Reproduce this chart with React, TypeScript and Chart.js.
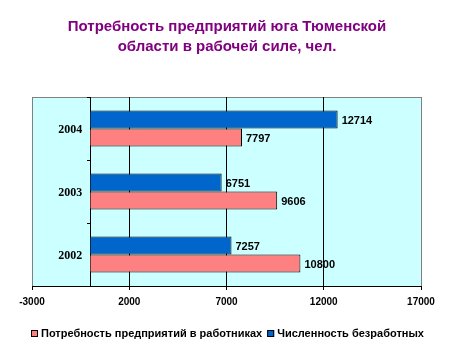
import React, { useEffect, useRef } from "react";
import { Chart, registerables } from "chart.js";

Chart.register(...registerables);

const categories = ["2002", "2003", "2004"];
const demandValues = [10800, 9606, 7797];
const unemployedValues = [7257, 6751, 12714];
const seriesNames = ["Потребность предприятий в работниках", "Численность безработных"];
const seriesColors = ["#FF8080", "#0066CC"];
const xMin = -3000;
const xMax = 17000;
const xStep = 5000;
const titleLines = ["Потребность предприятий юга Тюменской", "области в рабочей силе, чел."];

const FONT = '"Liberation Sans", Arial, sans-serif';
const SERIF = '"Liberation Serif", "Times New Roman", serif';

const decorPlugin = {
  id: "decor",
  beforeDraw(chart: any) {
    const { ctx, chartArea: a } = chart;
    ctx.save();
    ctx.fillStyle = "#CCFFFF";
    ctx.fillRect(a.left, a.top, a.right - a.left, a.bottom - a.top);
    ctx.strokeStyle = "#808080";
    ctx.lineWidth = 1;
    ctx.beginPath();
    ctx.moveTo(a.left, Math.round(a.top) + 0.5);
    ctx.lineTo(a.right, Math.round(a.top) + 0.5);
    ctx.stroke();
    ctx.restore();
  },
  afterDatasetsDraw(chart: any) {
    const ctx = chart.ctx;
    ctx.save();
    ctx.font = `bold 11px ${FONT}`;
    ctx.fillStyle = "#000";
    ctx.textAlign = "left";
    ctx.textBaseline = "middle";
    chart.data.datasets.forEach((ds: any, di: number) => {
      const meta = chart.getDatasetMeta(di);
      meta.data.forEach((bar: any, i: number) => {
        ctx.fillText(String(ds.data[i]), bar.x + 4, bar.y + 1);
      });
    });
    // category labels, placed left of the value axis line at 0
    const ys = chart.scales.y;
    const xs = chart.scales.x;
    const x0 = xs.getPixelForValue(0);
    ctx.font = `bold 12px ${SERIF}`;
    ctx.textAlign = "right";
    chart.data.labels.forEach((lab: string, i: number) => {
      ctx.fillText(lab, x0 - 8, ys.getPixelForValue(i) + 1);
    });
    ctx.restore();
  },
  afterDraw(chart: any) {
    const ctx = chart.ctx;
    ctx.save();
    // title
    ctx.font = `bold 15px ${FONT}`;
    ctx.fillStyle = "#800080";
    ctx.textAlign = "center";
    ctx.textBaseline = "alphabetic";
    titleLines.forEach((t, i) => ctx.fillText(t, 227, 31 + i * 20));
    // legend (series in original order: demand first)
    ctx.font = `bold 11px ${FONT}`;
    ctx.textAlign = "left";
    ctx.textBaseline = "middle";
    const box = 7;
    const gapText = 3;
    const gapItem = 5;
    const items = chart.data.datasets
      .map((ds: any) => ({ label: ds.label, color: ds.backgroundColor }))
      .reverse();
    const widths = items.map((it: any) => box + gapText + ctx.measureText(it.label).width);
    const total = widths.reduce((s: number, w: number) => s + w, 0) + gapItem * (items.length - 1);
    let x = Math.round((chart.width - total) / 2);
    const y = 333;
    items.forEach((it: any, i: number) => {
      ctx.fillStyle = it.color;
      ctx.fillRect(x, y - 3, box, box);
      ctx.strokeStyle = "#000";
      ctx.lineWidth = 1;
      ctx.strokeRect(x + 0.5, y - 2.5, box - 1, box - 1);
      ctx.fillStyle = "#000";
      ctx.fillText(it.label, x + box + gapText, y + 1);
      x += widths[i] + gapItem;
    });
    ctx.restore();
  },
};

export default function App() {
  const ref = useRef<HTMLCanvasElement>(null);
  useEffect(() => {
    if (!ref.current) return;
    const chart = new Chart(ref.current, {
      type: "bar",
      data: {
        labels: categories,
        datasets: [
          {
            label: seriesNames[1],
            data: unemployedValues,
            backgroundColor: seriesColors[1],
            borderColor: "#000",
            borderWidth: 1,
            categoryPercentage: 0.571,
            barPercentage: 1,
          },
          {
            label: seriesNames[0],
            data: demandValues,
            backgroundColor: seriesColors[0],
            borderColor: "#000",
            borderWidth: 1,
            categoryPercentage: 0.571,
            barPercentage: 1,
          },
        ],
      },
      options: {
        indexAxis: "y",
        animation: false,
        responsive: false,
        layout: { padding: { left: 32, right: 33, top: 97, bottom: 46 } },
        plugins: {
          legend: { display: false },
          title: { display: false },
          tooltip: { enabled: false },
        },
        scales: {
          x: {
            type: "linear",
            position: "bottom",
            min: xMin,
            max: xMax,
            ticks: {
              stepSize: xStep,
              color: "#000",
              font: { family: FONT, size: 10, weight: "bold" },
              padding: 6,
              callback: (v: any) => String(v),
            },
            grid: {
              color: (c: any) =>
                c.index === 0 || c.index === (xMax - xMin) / xStep ? "#808080" : "#000",
              tickColor: "#000",
              tickLength: 4,
            },
            border: { color: "#000" },
            afterFit: (s: any) => {
              s.height = 20;
            },
          },
          y: {
            type: "category",
            position: { x: 0 } as any,
            reverse: true,
            ticks: { display: false },
            grid: {
              drawOnChartArea: false,
              color: "#000",
              tickLength: 3,
            },
            border: { color: "#000" },
          },
        },
      },
      plugins: [decorPlugin],
    });
    return () => chart.destroy();
  }, []);
  return (
    <div style={{ position: "absolute", left: 0, top: 0, width: 454, height: 352, background: "#fff" }}>
      <canvas ref={ref} width={454} height={352} />
    </div>
  );
}
